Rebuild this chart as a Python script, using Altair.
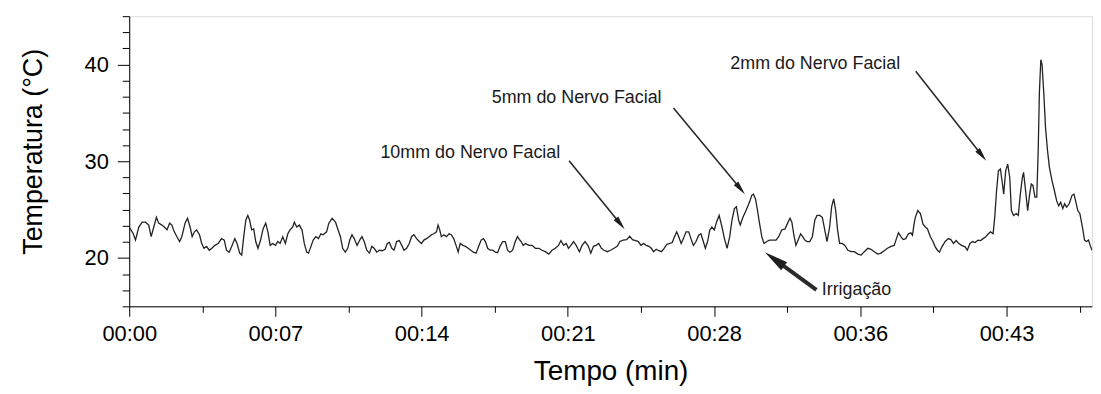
import math
import altair as alt
import pandas as pd

# ---------------- data ----------------
time_min = [
    0.0, 0.20, 0.31, 0.47, 0.64, 0.80, 0.96, 1.08, 1.21, 1.34, 1.45, 1.61, 1.73, 1.86, 1.99,
    2.10, 2.22, 2.35, 2.48, 2.59, 2.75, 2.87, 3.00, 3.10, 3.21, 3.32, 3.46, 3.57, 3.68, 3.81,
    3.94, 4.07, 4.22, 4.38, 4.55, 4.68, 4.79, 4.92, 5.05, 5.20, 5.31, 5.44, 5.54, 5.64, 5.74,
    5.84, 5.93, 6.03, 6.13, 6.23, 6.34, 6.47, 6.59, 6.72, 6.83, 6.94, 7.07, 7.20, 7.32, 7.43,
    7.56, 7.69, 7.81, 7.92, 8.05, 8.13, 8.25, 8.38, 8.51, 8.62, 8.74, 8.83, 8.95, 9.06, 9.19,
    9.32, 9.44, 9.55,
    9.72, 9.83, 9.99, 10.16, 10.27, 10.40, 10.51, 10.64, 10.76, 10.86, 10.97, 11.08, 11.22,
    11.35, 11.46, 11.57, 11.70, 11.83, 11.95, 12.06, 12.19, 12.32, 12.45, 12.60, 12.71, 12.81,
    12.93, 13.04, 13.17, 13.30, 13.42, 13.53, 13.66, 13.79, 13.90, 14.02, 14.15, 14.28, 14.39,
    14.51, 14.64, 14.77, 14.88, 15.00, 15.13, 15.21, 15.29, 15.37, 15.49, 15.62, 15.75, 15.86,
    15.98, 16.11, 16.20, 16.30, 16.43, 16.56, 16.69, 16.82, 16.95, 17.08, 17.21, 17.33, 17.44,
    17.54, 17.65, 17.77, 17.90, 18.03, 18.14, 18.26, 18.39, 18.52, 18.63, 18.75, 18.88, 19.01,
    19.12, 19.23, 19.30,
    19.40, 19.51, 19.68, 19.84, 20.00, 20.17, 20.33, 20.49, 20.66, 20.82, 20.98, 21.14, 21.26,
    21.39, 21.52, 21.63, 21.75, 21.88, 22.01, 22.17, 22.30, 22.45, 22.61, 22.73, 22.86, 22.99,
    23.12, 23.25, 23.38, 23.54, 23.70, 23.87, 24.03, 24.16, 24.32, 24.49, 24.65, 24.78, 24.94,
    25.07, 25.20, 25.33, 25.46, 25.59, 25.71, 25.82, 25.95, 26.08, 26.21, 26.34, 26.47, 26.61,
    26.74, 26.85, 26.96, 27.06, 27.18, 27.29, 27.42, 27.55, 27.66, 27.78, 27.91, 28.04, 28.15,
    28.27, 28.37, 28.48, 28.59, 28.69, 28.81, 28.92,
    29.05, 29.19, 29.31, 29.44, 29.57, 29.68, 29.80, 29.90, 30.01, 30.09, 30.22, 30.34, 30.45,
    30.55, 30.66, 30.74, 30.84, 30.94, 31.04, 31.15, 31.26, 31.40, 31.53, 31.69, 31.85, 31.98,
    32.13, 32.29, 32.41, 32.54, 32.63, 32.73, 32.83, 32.94, 33.06, 33.16, 33.27, 33.38, 33.51,
    33.64, 33.76, 33.87, 34.00, 34.13, 34.25, 34.36, 34.49, 34.59, 34.69, 34.79, 34.88, 34.98,
    35.11, 35.24, 35.39, 35.55, 35.71, 35.88, 36.04, 36.20, 36.37, 36.53, 36.69, 36.86, 37.02,
    37.18, 37.34, 37.51, 37.67, 37.78, 37.88, 38.00, 38.11, 38.24, 38.37, 38.49, 38.57, 38.65,
    38.71, 38.83, 38.96, 39.09, 39.20, 39.31, 39.45, 39.58, 39.69, 39.80, 39.90, 40.02, 40.18,
    40.34, 40.46, 40.59, 40.72, 40.85, 40.99, 41.16, 41.27, 41.40, 41.53, 41.66, 41.79, 41.92,
    42.05, 42.18, 42.31, 42.41, 42.54, 42.62, 42.71, 42.80, 42.90, 43.00, 43.06, 43.16, 43.26,
    43.36, 43.44, 43.55, 43.68, 43.78, 43.88, 43.98, 44.04, 44.14, 44.24, 44.34, 44.42, 44.50,
    44.60, 44.69, 44.76, 44.82, 44.89, 44.95, 45.04, 45.12, 45.22, 45.31, 45.44, 45.56, 45.67,
    45.77, 45.87, 45.97, 46.06, 46.16, 46.29, 46.42, 46.52, 46.62, 46.71, 46.81, 46.94, 47.04,
    47.14, 47.24, 47.32, 47.41,
]
temp_c = [
    23.2, 22.5, 21.85, 23.2, 23.7, 23.7, 23.4, 22.2, 23.2, 24.2, 23.6, 23.4, 23.2, 22.9, 23.6,
    23.4, 22.7, 22.2, 21.7, 22.2, 23.6, 24.1, 23.2, 22.2, 22.7, 22.9, 22.4, 21.5, 21.0, 21.2,
    20.8, 21.0, 21.3, 21.5, 22.0, 21.85, 20.8, 20.6, 21.2, 22.0, 21.5, 20.5, 20.3, 22.2, 23.9,
    24.4, 23.9, 22.9, 23.0, 21.7, 21.0, 21.85, 23.0, 23.6, 22.7, 21.3, 21.5, 21.3, 21.7, 21.5,
    22.2, 21.5, 22.5, 22.9, 23.2, 23.7, 23.2, 23.4, 22.9, 21.5, 20.6, 20.5, 21.2, 21.85, 22.2,
    22.0, 22.5, 22.4,
    22.7, 23.6, 24.1, 23.7, 23.0, 22.2, 21.0, 20.6, 21.0, 21.85, 22.4, 22.0, 21.3,
    21.85, 22.2, 21.7, 20.8, 20.5, 21.2, 21.0, 20.6, 20.8, 20.75, 20.9, 21.5, 21.6,
    21.0, 20.8, 21.7, 21.8, 21.3, 20.8, 21.0, 21.5, 22.2, 22.4, 22.0, 21.7, 21.5,
    21.85, 22.0, 22.2, 22.4, 22.5, 22.7, 23.4, 22.9, 22.2, 22.4, 22.2, 22.5, 22.4,
    22.0, 21.2, 20.6, 21.5, 21.3, 21.2, 21.0, 20.8, 20.6, 20.5, 21.2, 21.85, 22.0,
    21.7, 21.0, 20.8, 20.8, 20.6, 20.55, 21.2, 21.7, 21.7, 20.8, 20.6, 20.8, 21.7,
    22.2, 21.85, 21.7,
    21.3, 21.5, 21.3, 21.3, 21.0, 21.0, 20.8, 20.65, 20.4, 20.8, 21.0, 21.3, 21.8,
    21.3, 21.5, 21.0, 21.3, 21.7, 21.3, 20.65, 21.3, 21.7, 21.2, 20.5, 21.2, 21.3,
    21.5, 21.0, 20.8, 20.65, 20.8, 21.0, 21.2, 21.7, 21.85, 21.9, 22.25, 21.9, 21.8,
    21.7, 21.3, 21.5, 21.3, 21.2, 21.0, 20.65, 20.9, 20.75, 20.65, 21.0, 21.4, 21.5,
    21.6, 22.2, 22.7, 22.2, 21.5, 22.0, 22.7, 22.7, 22.0, 21.3, 21.7, 22.35, 22.5,
    21.7, 21.0, 21.7, 22.9, 23.2, 22.9, 23.7,
    24.4, 23.2, 22.0, 21.0, 22.2, 23.9, 25.1, 25.3, 23.9, 23.4, 24.2, 24.75, 25.3,
    25.8, 26.5, 26.6, 26.1, 24.9, 23.55, 22.2, 21.5, 21.7, 21.85, 21.85, 21.85, 22.2,
    22.9, 23.0, 23.55, 24.1, 23.7, 22.35, 21.3, 21.85, 22.5, 22.2, 21.85, 21.7, 21.7,
    22.2, 23.9, 24.4, 24.4, 24.2, 22.9, 21.7, 23.2, 25.3, 26.1, 24.9, 22.9, 21.5,
    21.5, 21.3, 20.8, 20.65, 20.65, 20.4, 20.3, 20.65, 21.0, 20.9, 20.65, 20.4, 20.5,
    20.75, 21.0, 21.2, 21.3, 22.0, 22.6, 22.2, 21.9, 22.0, 22.5, 22.6, 22.35, 23.55,
    24.2, 24.9, 24.6, 23.5, 23.2, 23.0, 22.2, 21.7, 21.15, 20.8, 20.6, 21.15, 21.7,
    22.0, 21.9, 21.5, 21.8, 21.5, 21.3, 21.15, 20.8, 21.5, 21.7, 21.6, 21.85, 21.8,
    22.0, 22.2, 22.5, 22.7, 22.5, 24.2, 26.95, 29.0, 29.2, 27.65, 26.6, 29.0, 29.7,
    28.3, 24.9, 24.4, 24.6, 24.4, 26.6, 28.3, 28.85, 26.95, 24.9, 26.6, 27.65, 27.5,
    26.3, 26.3, 31.1, 37.2, 40.5, 40.0, 36.9, 33.5, 31.1, 29.4, 28.0, 26.95, 25.9,
    25.4, 25.75, 25.1, 25.6, 25.25, 25.6, 26.45, 26.6, 25.75, 24.9, 24.6, 23.2, 21.85,
    21.7, 21.85, 21.3, 20.8,
]

# axes
x_domain = [0, 47.41]
y_domain = [15, 45]
x_tick_values = [0, 3.6, 7.2, 10.8, 14.4, 18.0, 21.6, 25.2, 28.8, 32.4, 36.0, 39.6, 43.2, 46.8]
x_tick_labels = ["00:00", "00:07", "00:14", "00:21", "00:28", "00:36", "00:43"]
y_tick_values = [15, 16.6667, 18.3333, 20, 21.6667, 23.3333, 25, 26.6667, 28.3333, 30,
                 31.6667, 33.3333, 35, 36.6667, 38.3333, 40, 41.6667, 43.3333, 45]

# annotations
ann_text = ["10mm do Nervo Facial", "5mm do Nervo Facial", "2mm do Nervo Facial", "Irrigação"]
ann_x = [12.37, 17.85, 29.6, 34.1]
ann_y = [30.9, 36.5, 40.1, 16.7]

arrow_tail_x = [21.66, 26.8, 38.73, 33.84]
arrow_tail_y = [30.05, 35.5, 39.3, 16.7]
arrow_tip_x = [24.40, 30.32, 42.2, 31.3]
arrow_tip_y = [22.97, 26.6, 30.05, 20.6]
arrow_width = [1.6, 1.6, 1.6, 4.0]
arrow_head_len = [14, 14, 14, 24]

# ---------------- layout ----------------
W, H = 969, 292
FONT = "Liberation Sans"
px_per_x = W / (x_domain[1] - x_domain[0])
px_per_y = H / (y_domain[1] - y_domain[0])

rows = []
for i in range(len(arrow_tail_x)):
    dx = (arrow_tip_x[i] - arrow_tail_x[i]) * px_per_x
    dy = (arrow_tip_y[i] - arrow_tail_y[i]) * px_per_y
    length = math.hypot(dx, dy)
    frac = 1 - (arrow_head_len[i] * 0.6) / length
    rows.append({
        "x": arrow_tail_x[i], "y": arrow_tail_y[i],
        "x2": arrow_tail_x[i] + (arrow_tip_x[i] - arrow_tail_x[i]) * frac,
        "y2": arrow_tail_y[i] + (arrow_tip_y[i] - arrow_tail_y[i]) * frac,
        "tx": arrow_tip_x[i], "ty": arrow_tip_y[i],
        "w": arrow_width[i],
        "angle": math.degrees(math.atan2(dx, dy)) % 360,
        "size": arrow_head_len[i] ** 2,
    })
arrows = pd.DataFrame(rows)

line_df = pd.DataFrame({"t": time_min, "temp": temp_c})
ann_df = pd.DataFrame({"text": ann_text, "x": ann_x, "y": ann_y})

xscale = alt.Scale(domain=x_domain, nice=False, zero=False)
yscale = alt.Scale(domain=y_domain, nice=False, zero=False)

labels_js = "[" + ",".join("'%s'" % s for s in x_tick_labels) + "]"
x_major = "round(datum.value/3.6) % 2 == 0"
y_major = "abs(datum.value - round(datum.value)) < 0.01 && round(datum.value) % 10 == 0"

x_axis = alt.Axis(
    values=x_tick_values, tickCount=40,
    labelExpr=x_major + " ? " + labels_js + "[round(datum.value/7.2)] : ''",
    tickSize={"condition": {"test": x_major, "value": 10}, "value": 6},
    labelFontSize=22, labelFont=FONT, labelColor="black", labelPadding=7,
    title="Tempo (min)", titleFontSize=28, titleFont=FONT, titleFontWeight="normal",
    titleColor="black", titlePadding=14, grid=False, domainColor="black", tickColor="black",
    labelFlush=False, labelOverlap=False,
)
y_axis = alt.Axis(
    values=y_tick_values, tickCount=40,
    labelExpr=y_major + " ? format(datum.value, 'd') : ''",
    tickSize={"condition": {"test": y_major, "value": 12}, "value": 7},
    labelFontSize=22, labelFont=FONT, labelColor="black", labelPadding=9,
    title="Temperatura (°C)", titleFontSize=27, titleFont=FONT, titleFontWeight="normal",
    titleColor="black", titlePadding=37, titleY=136, grid=False, domainColor="black",
    tickColor="black", labelFlush=False, labelOverlap=False,
)

line = alt.Chart(line_df).mark_line(color="#222222", strokeWidth=1.3, clip=True).encode(
    x=alt.X("t:Q", scale=xscale, axis=x_axis),
    y=alt.Y("temp:Q", scale=yscale, axis=y_axis),
)

shafts = alt.Chart(arrows).mark_rule(color="#2a2a2a").encode(
    x=alt.X("x:Q", scale=xscale), y=alt.Y("y:Q", scale=yscale),
    x2="x2:Q", y2="y2:Q",
    strokeWidth=alt.StrokeWidth("w:Q", scale=None),
)

heads = alt.Chart(arrows).mark_point(
    shape="M0,0 L0.42,2 L-0.42,2 Z", filled=True, color="#1e1e1e", opacity=1
).encode(
    x=alt.X("tx:Q", scale=xscale), y=alt.Y("ty:Q", scale=yscale),
    angle=alt.Angle("angle:Q", scale=None),
    size=alt.Size("size:Q", scale=None),
)

texts = alt.Chart(ann_df).mark_text(
    align="left", baseline="middle", font=FONT, fontSize=18, color="#1a1a1a"
).encode(
    x=alt.X("x:Q", scale=xscale), y=alt.Y("y:Q", scale=yscale), text="text:N"
)

chart = alt.layer(line, shafts, heads, texts).properties(
    width=W, height=H,
    autosize=alt.AutoSizeParams(type="none"),
    padding={"left": 122, "top": 7, "right": 1, "bottom": 86},
).configure_view(stroke="black", strokeWidth=1).configure(background="white")

chart.save("out.html", embed_options={"renderer": "svg", "actions": False})
